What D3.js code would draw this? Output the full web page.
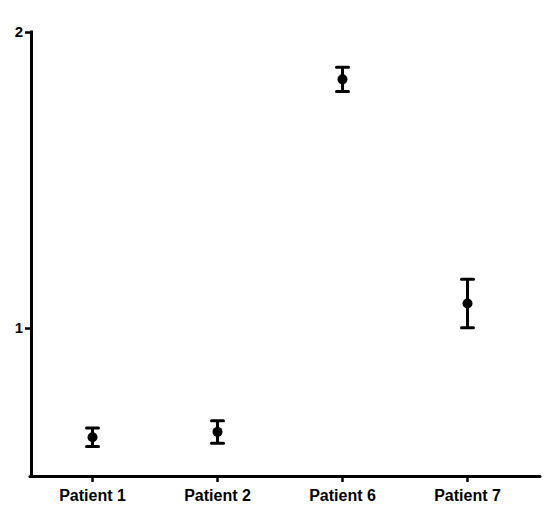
<!DOCTYPE html>
<html><head><meta charset="utf-8">
<script src="https://cdn.jsdelivr.net/npm/d3@7"></script>
<style>body{margin:0;background:#fff}svg{display:block}</style>
</head><body>
<script>
const categories = ["Patient 1","Patient 2","Patient 6","Patient 7"];
const means = [0.631, 0.649, 1.840, 1.083];
const errors = [0.031, 0.038, 0.041, 0.082];
const yTicks = [1, 2];

const W = 558, H = 511;
const svg = d3.select("body").append("svg").attr("width", W).attr("height", H);
const x = d3.scaleBand().domain(categories).range([30, 530]);
const y = d3.scaleLinear().domain([0.5, 2]).range([476, 32]);

const font = "Liberation Sans, Arial, sans-serif";

// axes lines
svg.append("line").attr("x1", 31.5).attr("x2", 31.5).attr("y1", 30.5).attr("y2", 477.5)
  .attr("stroke", "#000").attr("stroke-width", 3);
svg.append("line").attr("x1", 30).attr("x2", 540).attr("y1", 476.5).attr("y2", 476.5)
  .attr("stroke", "#000").attr("stroke-width", 3).attr("stroke-linecap", "round");

const yAxis = d3.axisLeft(y).tickValues(yTicks).tickFormat(d3.format("d")).tickSize(6).tickPadding(2);
const gy = svg.append("g").attr("transform", "translate(31,0)").call(yAxis);
gy.select(".domain").remove();
gy.selectAll(".tick line").attr("stroke-width", 2.5);
gy.selectAll(".tick text").attr("font-family", font).attr("font-weight", "bold").attr("font-size", 15).attr("fill", "#000");

const xAxis = d3.axisBottom(x).tickSize(5).tickPadding(8);
const gx = svg.append("g").attr("transform", "translate(0,477)").call(xAxis);
gx.select(".domain").remove();
gx.selectAll(".tick line").attr("stroke-width", 2.5);
gx.selectAll(".tick text").attr("font-family", font).attr("font-weight", "bold").attr("font-size", 16).attr("fill", "#000")
  .attr("dy", "0.68em");

const data = categories.map((c, i) => ({c, m: means[i], e: errors[i]}));
const g = svg.append("g");
const cx = d => x(d.c) + x.bandwidth() / 2;
g.selectAll(".v").data(data).join("line")
  .attr("x1", cx).attr("x2", cx)
  .attr("y1", d => y(d.m + d.e)).attr("y2", d => y(d.m - d.e))
  .attr("stroke", "#000").attr("stroke-width", 3);
["+", "-"].forEach(s => {
  g.selectAll(".cap" + (s === "+" ? "t" : "b")).data(data).join("line")
    .attr("x1", d => cx(d) - 6).attr("x2", d => cx(d) + 6)
    .attr("y1", d => y(s === "+" ? d.m + d.e : d.m - d.e))
    .attr("y2", d => y(s === "+" ? d.m + d.e : d.m - d.e))
    .attr("stroke", "#000").attr("stroke-width", 3).attr("stroke-linecap", "round");
});
g.selectAll("circle").data(data).join("circle")
  .attr("cx", cx).attr("cy", d => y(d.m)).attr("r", 5).attr("fill", "#000");
</script>
</body></html>
